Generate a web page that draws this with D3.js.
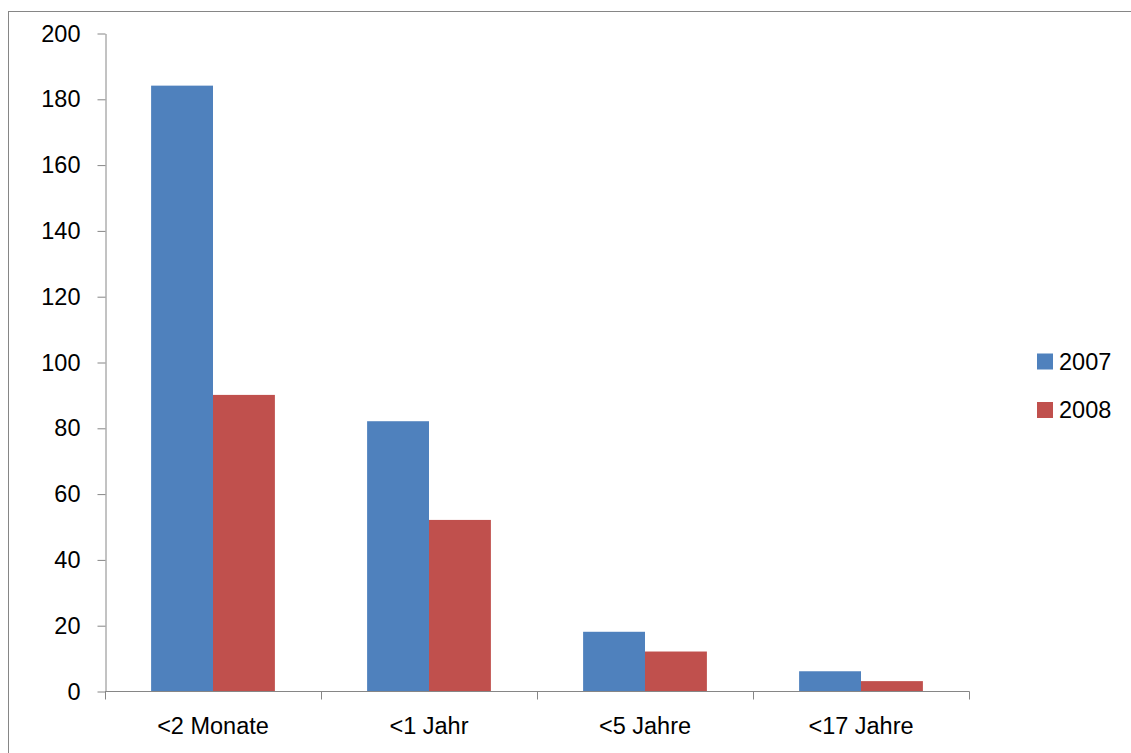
<!DOCTYPE html>
<html>
<head>
<meta charset="utf-8">
<script src="https://cdn.jsdelivr.net/npm/d3@7"></script>
<style>
  html, body { margin: 0; padding: 0; background: #fff; }
  svg { display: block; }
  text { font-family: "Liberation Sans", Arial, sans-serif; fill: #000; }
</style>
</head>
<body>
<svg id="chart" width="1131" height="753"></svg>
<script>
const categories = ["<2 Monate", "<1 Jahr", "<5 Jahre", "<17 Jahre"];
const seriesNames = ["2007", "2008"];
const values2007 = [184, 82, 18, 6];
const values2008 = [90, 52, 12, 3];
const yTicks = [0, 20, 40, 60, 80, 100, 120, 140, 160, 180, 200];
const colors = ["#4f81bd", "#c0504d"];

const svg = d3.select("#chart");
const W = 1131, H = 753;
const plot = { left: 105, right: 969, top: 33, bottom: 691 };
const axisColor = "#868686";
const fontSize = 23.5;

// outer chart frame
svg.append("rect")
  .attr("x", 8.5).attr("y", 11.5)
  .attr("width", W + 20).attr("height", H + 20)
  .attr("fill", "none").attr("stroke", axisColor).attr("stroke-width", 1);

const x0 = d3.scaleBand().domain(categories).range([plot.left, plot.right]).paddingInner(0).paddingOuter(0);
const x1 = d3.scaleBand().domain(seriesNames).range([0, x0.bandwidth()]).paddingInner(0).paddingOuter(0.745);
const y = d3.scaleLinear().domain([0, 200]).range([plot.bottom, plot.top]);

const data = categories.map((c, i) => ({ cat: c, vals: [values2007[i], values2008[i]] }));

// bars
const groups = svg.append("g").selectAll("g").data(data).join("g")
  .attr("transform", d => `translate(${x0(d.cat)},0)`);
groups.selectAll("rect").data(d => d.vals.map((v, j) => ({ v, j })))
  .join("rect")
  .attr("x", d => x1(seriesNames[d.j]))
  .attr("y", d => y(d.v))
  .attr("width", x1.bandwidth())
  .attr("height", d => y(0) - y(d.v))
  .attr("fill", d => colors[d.j]);

// y axis
const yAxis = d3.axisLeft(y).tickValues(yTicks).tickSize(8).tickPadding(17).tickSizeOuter(0);
const gy = svg.append("g").attr("transform", `translate(${plot.left + 0.5},0.5)`).call(yAxis);
gy.select(".domain").attr("stroke", axisColor);
gy.selectAll(".tick line").attr("stroke", axisColor);
gy.selectAll(".tick text").attr("font-size", fontSize).attr("font-family", "Liberation Sans, Arial, sans-serif").attr("fill", "#000");

// x axis with tick marks at category boundaries
const gx = svg.append("g").attr("transform", `translate(0,${plot.bottom + 0.5})`);
gx.append("line").attr("x1", plot.left).attr("x2", plot.right + 0.5)
  .attr("stroke", axisColor);
const boundaries = categories.map(c => x0(c)).concat([x0(categories[categories.length - 1]) + x0.bandwidth()]);
gx.selectAll("line.tk").data(boundaries).join("line").attr("class", "tk")
  .attr("x1", d => Math.round(d) + 0.5).attr("x2", d => Math.round(d) + 0.5)
  .attr("y1", 0).attr("y2", 8).attr("stroke", axisColor);
gx.selectAll("text").data(categories).join("text")
  .attr("x", d => x0(d) + x0.bandwidth() / 2)
  .attr("y", 42)
  .attr("text-anchor", "middle")
  .attr("font-size", fontSize)
  .text(d => d);

// legend
const legend = svg.append("g").attr("transform", "translate(1037,0)");
seriesNames.forEach((s, i) => {
  const cy = 361.5 + i * 48.5;
  legend.append("rect").attr("x", 0).attr("y", cy - 8).attr("width", 16).attr("height", 16).attr("fill", colors[i]);
  legend.append("text").attr("x", 22).attr("y", cy).attr("dy", "0.35em")
    .attr("font-size", fontSize).text(s);
});
</script>
</body>
</html>
